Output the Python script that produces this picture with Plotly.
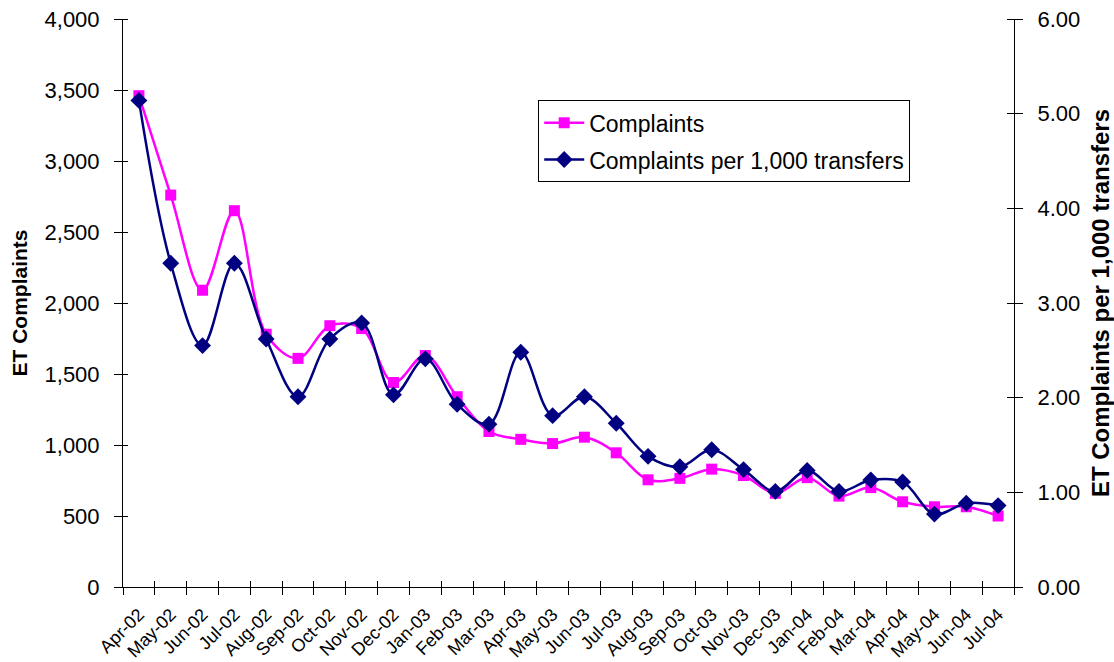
import plotly.graph_objects as go

# Monthly ET complaints and complaints per 1,000 transfers
months = ["Apr-02", "May-02", "Jun-02", "Jul-02", "Aug-02", "Sep-02", "Oct-02",
          "Nov-02", "Dec-02", "Jan-03", "Feb-03", "Mar-03", "Apr-03", "May-03",
          "Jun-03", "Jul-03", "Aug-03", "Sep-03", "Oct-03", "Nov-03", "Dec-03",
          "Jan-04", "Feb-04", "Mar-04", "Apr-04", "May-04", "Jun-04", "Jul-04"]

complaints = [3460, 2760, 2090, 2650, 1780, 1610, 1840, 1820, 1440, 1630,
              1340, 1095, 1040, 1010, 1055, 945, 755, 765, 830, 785,
              660, 770, 640, 700, 600, 565, 565, 500]

per_1000 = [5.14, 3.42, 2.55, 3.42, 2.62, 2.01, 2.62, 2.79, 2.03, 2.41,
            1.93, 1.72, 2.48, 1.81, 2.01, 1.73, 1.38, 1.27, 1.45, 1.24,
            1.01, 1.23, 1.01, 1.13, 1.11, 0.77, 0.885, 0.86]

left_ticks = [0, 500, 1000, 1500, 2000, 2500, 3000, 3500, 4000]
right_ticks = [0, 1, 2, 3, 4, 5, 6]

PINK = "#FF00FF"
NAVY = "#000080"
FONT = "Liberation Sans, Arial, sans-serif"

fig = go.Figure()

fig.add_trace(go.Scatter(
    x=months, y=complaints, name="Complaints",
    mode="lines+markers", line=dict(color=PINK, width=2.5, shape="spline"),
    marker=dict(symbol="square", size=11, color=PINK),
    xaxis="x", yaxis="y", legendgroup="a",
))

fig.add_trace(go.Scatter(
    x=months, y=per_1000, name="Complaints per 1,000 transfers",
    mode="lines+markers", line=dict(color=NAVY, width=2.5, shape="spline"),
    marker=dict(symbol="diamond", size=13, color=NAVY),
    xaxis="x", yaxis="y2", legendgroup="b",
))

# empty trace carrying the inward half of the category tick marks
fig.add_trace(go.Scatter(
    x=months, y=[None] * len(months), mode="lines", showlegend=False,
    hoverinfo="skip", xaxis="x2", yaxis="y",
))

axis_common = dict(showgrid=False, zeroline=False, linecolor="black",
                   linewidth=1, tickcolor="black", tickwidth=1,
                   automargin=False)

fig.update_layout(
    width=1114, height=662,
    margin=dict(l=123, r=100, t=19, b=75),
    paper_bgcolor="white", plot_bgcolor="white",
    font=dict(family=FONT, color="black"),
    xaxis=dict(
        type="category", range=[-0.5, len(months) - 0.5],
        tickson="boundaries", ticks="outside", ticklen=7,
        tickangle=-45, showline=True, ticklabelstandoff=9,
        tickfont=dict(family=FONT, size=18, color="black"),
        **axis_common,
    ),
    xaxis2=dict(
        type="category", range=[-0.5, len(months) - 0.5], overlaying="x",
        anchor="y", side="bottom", tickson="boundaries", ticks="inside",
        ticklen=6, showticklabels=False, showline=False, automargin=False,
        showgrid=False, zeroline=False, tickcolor="black",
    ),
    yaxis=dict(
        range=[0, 4000], tickvals=left_ticks, tickformat=",d",
        ticks="outside", ticklen=8, ticklabelstandoff=10, showline=True,
        tickfont=dict(family=FONT, size=22, color="black"),
        minor=dict(tickvals=left_ticks, ticks="inside", ticklen=5,
                   tickcolor="black", tickwidth=1),
        title=dict(text="<b>ET Complaints</b>", standoff=11,
                   font=dict(family=FONT, size=21, color="black")),
        **axis_common,
    ),
    yaxis2=dict(
        range=[0, 6], tickvals=right_ticks, tickformat=".2f",
        overlaying="y", side="right", anchor="x",
        ticks="outside", ticklen=8, ticklabelstandoff=10, showline=True,
        tickfont=dict(family=FONT, size=22, color="black"),
        minor=dict(tickvals=right_ticks, ticks="inside", ticklen=7,
                   tickcolor="black", tickwidth=1),
        title=dict(text="<b>ET Complaints per 1,000 transfers</b>", standoff=22,
                   font=dict(family=FONT, size=24, color="black")),
        **axis_common,
    ),
    legend=dict(
        x=0.466, y=0.857, xanchor="left", yanchor="top",
        bgcolor="white", bordercolor="black", borderwidth=1,
        font=dict(family=FONT, size=23, color="black"),
        itemwidth=40, tracegroupgap=4,
    ),
    showlegend=True,
)

fig.write_html("out.html")
